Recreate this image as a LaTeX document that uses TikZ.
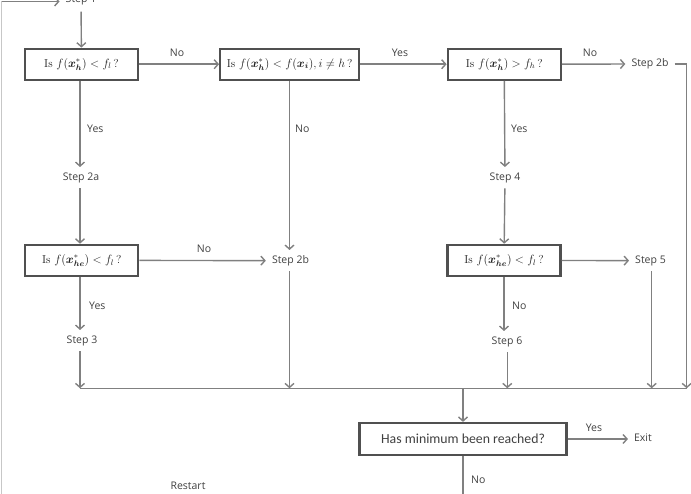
\documentclass[tikz,border=0pt]{standalone}
\usepackage{amsmath}
\usepackage{fontspec}
\newfontfamily\labfont{Open Sans}
\newfontfamily\calfont{Carlito}
\usetikzlibrary{arrows.meta}
\definecolor{boxc}{HTML}{505050}
\definecolor{linec}{HTML}{808080}
\definecolor{txtc}{HTML}{404040}
\definecolor{mathc}{HTML}{202020}
\begin{document}
\begin{tikzpicture}[x=1pt,y=-1pt,
  box/.style={draw=boxc, line width=2.2pt, fill=white, minimum height=31pt, inner sep=0pt, text=mathc, font=\fontsize{11.5}{13}\selectfont},
  steplab/.style={inner xsep=6pt, inner ysep=5.5pt, text height=7.5pt, text depth=2.5pt, text=txtc, font=\labfont\fontsize{10.5}{12}\selectfont},
  small/.style={inner sep=1pt, text=txtc, font=\labfont\fontsize{10.5}{12}\selectfont},
  conn/.style={draw=linec, line width=1.4pt, -{Straight Barb[length=4pt,width=9pt]}},
  plainline/.style={draw=linec, line width=1.4pt}]
\useasboundingbox (0,0) rectangle (691,494);
\clip (0,0) rectangle (691,494);

% boxes
\node[box, minimum width=113pt] (b1) at (81.5,64.2) {Is $f(\boldsymbol{x}^*_{\boldsymbol{h}})<f_l\,$?};
\node[box, minimum width=139pt] (b2) at (289.7,64.2) {Is $f(\boldsymbol{x}^*_{\boldsymbol{h}})<f(\boldsymbol{x}_{\boldsymbol{i}}), i\neq h\,$?};
\node[box, minimum width=113pt] (b3) at (504.2,64.2) {Is $f(\boldsymbol{x}^*_{\boldsymbol{h}})>f_h\,$?};
\node[box, minimum width=113pt] (b4) at (81.7,260.3) {Is $f(\boldsymbol{x}^*_{\boldsymbol{he}})<f_l\,$?};
\node[box, minimum width=113pt] (b5) at (504,260.3) {Is $f(\boldsymbol{x}^*_{\boldsymbol{he}})<f_l\,$?};
\node[box, minimum width=207pt, minimum height=32pt, text=txtc, font=\calfont\fontsize{13.8}{16}\selectfont] (b6) at (463,439) {Has minimum been reached?};

% step labels
\node[steplab] (s1) at (81,0) {Step 1};
\node[steplab] (s2a) at (81,177.7) {Step 2a};
\node[steplab] (s2bt) at (650,64) {Step 2b};
\node[steplab] (s2b) at (290.5,260.7) {Step 2b};
\node[steplab] (s4) at (505,177.7) {Step 4};
\node[steplab] (s3) at (82,340.7) {Step 3};
\node[steplab] (s5) at (650.5,260.7) {Step 5};
\node[steplab] (s6) at (507,341.7) {Step 6};
\node[steplab] (exit) at (643,439) {Exit};

% coordinates
\coordinate (tl) at (1.5,1.5);
\coordinate (bl) at (1.5,494);
\coordinate (j1) at (80,388.3);
\coordinate (j2) at (289.5,388.3);
\coordinate (j3) at (507.3,388.3);
\coordinate (j4) at (651.7,388.3);
\coordinate (j5) at (686.7,388.3);
\coordinate (jm) at (463,388.3);
\coordinate (bot) at (463,494);

% restart loop (cropped)
\draw[draw=black!22, line width=1pt] (tl) -- (bl);
\draw[conn] (tl) -- (tl -| s1.west);

% connectors
\draw[conn, shorten <=1pt] (s1) -- (b1);
\draw[conn] (b1) -- (b2);
\draw[conn] (b2) -- (b3);
\draw[conn] (b3) -- (s2bt);
\draw[plainline] (s2bt.east) -- (s2bt.east -| j5);
\draw[conn] (s2bt.east -| j5) -- (j5);

\draw[conn] (b1.south -| 80,0) -- (s2a.north -| 80,0);
\draw[conn] (s2a.south -| 80,0) -- (b4.north -| 80,0);
\draw[conn] (b2.south -| j2) -- (s2b.north -| j2);
\draw[conn] (b4) -- (s2b);
\draw[conn] (b4.south -| 80,0) -- (s3.north -| 80,0);
\draw[conn] (s3.south -| 80,0) -- (j1);
\draw[conn] (s2b.south -| j2) -- (j2);

\draw[conn] (b3) -- (s4);
\draw[conn] (s4) -- (b5);
\draw[conn] (b5) -- (s5);
\draw[conn] (b5.south) -- (b5.south |- s6.north);
\draw[conn] (s6.south -| j3) -- (j3);
\draw[conn] (s5.south -| j4) -- (j4);

\draw[plainline] (j1) -- (j5);
\draw[conn] (jm) -- (b6);
\draw[conn] (b6) -- (exit);
\draw[plainline] (b6) -- (bot);

% branch labels
\node[small] (l1) at (177,52.7) {No};
\node[small] (l2) at (400,52.7) {Yes};
\node[small] (l3) at (590,52.7) {No};
\node[small, anchor=west] (l4) at (86,129) {Yes};
\node[small, anchor=west] (l5) at (294,128.5) {No};
\node[small, anchor=west] (l6) at (510,128.5) {Yes};
\node[small] (l7) at (204,249.3) {No};
\node[small, anchor=west] (l8) at (88,305.7) {Yes};
\node[small, anchor=west] (l9) at (511,305.7) {No};
\node[small] (l10) at (594,428) {Yes};
\node[small, anchor=west] (l11) at (470,480) {No};
\node[small] (rs) at (188,486) {Restart};
\end{tikzpicture}
\end{document}
